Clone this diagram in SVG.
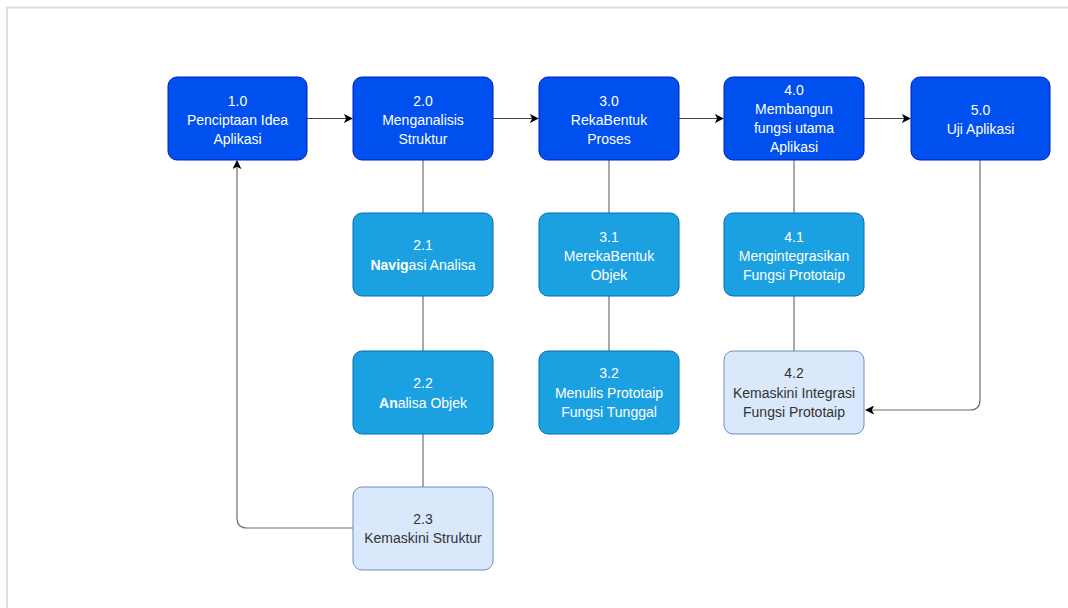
<svg xmlns="http://www.w3.org/2000/svg" width="1068" height="608" viewBox="0 0 1068 608">
<defs>
<marker id="arr" viewBox="0 0 10 10" refX="9" refY="5" markerWidth="9" markerHeight="9" markerUnits="userSpaceOnUse" orient="auto">
<path d="M0,0 L10,5 L0,10 L2.5,5 Z" fill="#000"/>
</marker>
<style>
.top{fill:#0050EF;stroke:#001DBC;stroke-width:1}
.mid{fill:#1BA1E2;stroke:#006EAF;stroke-width:1}
.lt{fill:#DAE8FC;stroke:#6C8EBF;stroke-width:1}
.tw{font-family:"Liberation Sans",Arial,sans-serif;font-size:14px;fill:#fff;text-anchor:middle}
.td{font-family:"Liberation Sans",Arial,sans-serif;font-size:14px;fill:#333;text-anchor:middle}
.c{fill:none;stroke:#707070;stroke-width:1.2}
.ca{fill:none;stroke:#444;stroke-width:1.2}
</style>
</defs>
<rect width="1068" height="608" fill="#fff"/>
<path d="M7,620 L7,7.5 L1070,7.5" fill="none" stroke="#dcdcdc" stroke-width="2"/>
<g id="connectors">
<path class="ca" d="M307,118.5 L352,118.5" marker-end="url(#arr)"/>
<path class="ca" d="M493,118.5 L538,118.5" marker-end="url(#arr)"/>
<path class="ca" d="M679,118.5 L723,118.5" marker-end="url(#arr)"/>
<path class="ca" d="M864,118.5 L910,118.5" marker-end="url(#arr)"/>
<path class="c" d="M423,160 L423,213"/>
<path class="c" d="M423,296 L423,351"/>
<path class="c" d="M423,434 L423,487"/>
<path class="c" d="M609,160 L609,213"/>
<path class="c" d="M609,296 L609,351"/>
<path class="c" d="M794,160 L794,213"/>
<path class="c" d="M794,296 L794,351"/>
<path class="c" d="M353,528 L247,528 Q237,528 237,518 L237,161" marker-end="url(#arr)"/>
<path class="c" d="M980,160 L980,400 Q980,410 970,410 L866,410" marker-end="url(#arr)"/>
</g>
<g id="n1_0"><rect class="top" x="168" y="77" width="139" height="83" rx="9"/>
<text class="tw" x="237.5"><tspan x="237.5" y="106">1.0</tspan><tspan x="237.5" y="125">Penciptaan Idea</tspan><tspan x="237.5" y="144">Aplikasi</tspan></text></g>
<g id="n2_0"><rect class="top" x="353" y="77" width="140" height="83" rx="9"/>
<text class="tw"><tspan x="423" y="106">2.0</tspan><tspan x="423" y="125">Menganalisis</tspan><tspan x="423" y="144">Struktur</tspan></text></g>
<g id="n3_0"><rect class="top" x="539" y="77" width="140" height="83" rx="9"/>
<text class="tw"><tspan x="609" y="106">3.0</tspan><tspan x="609" y="125">RekaBentuk</tspan><tspan x="609" y="144">Proses</tspan></text></g>
<g id="n4_0"><rect class="top" x="724" y="77" width="140" height="83" rx="9"/>
<text class="tw"><tspan x="794" y="95">4.0</tspan><tspan x="794" y="114">Membangun</tspan><tspan x="794" y="133">fungsi utama</tspan><tspan x="794" y="152">Aplikasi</tspan></text></g>
<g id="n5_0"><rect class="top" x="911" y="77" width="139" height="83" rx="9"/>
<text class="tw"><tspan x="980.5" y="115">5.0</tspan><tspan x="980.5" y="134">Uji Aplikasi</tspan></text></g>
<g id="n2_1"><rect class="mid" x="353" y="213" width="140" height="83" rx="9"/>
<text class="tw"><tspan x="423" y="250">2.1</tspan><tspan x="423" y="270"><tspan font-weight="bold">Navig</tspan>asi Analisa</tspan></text></g>
<g id="n2_2"><rect class="mid" x="353" y="351" width="140" height="83" rx="9"/>
<text class="tw"><tspan x="423" y="388">2.2</tspan><tspan x="423" y="408"><tspan font-weight="bold">An</tspan>alisa Objek</tspan></text></g>
<g id="n2_3"><rect class="lt" x="353" y="487" width="140" height="83" rx="9"/>
<text class="td"><tspan x="423" y="524">2.3</tspan><tspan x="423" y="543">Kemaskini Struktur</tspan></text></g>
<g id="n3_1"><rect class="mid" x="539" y="213" width="140" height="83" rx="9"/>
<text class="tw"><tspan x="609" y="242">3.1</tspan><tspan x="609" y="261">MerekaBentuk</tspan><tspan x="609" y="280">Objek</tspan></text></g>
<g id="n3_2"><rect class="mid" x="539" y="351" width="140" height="83" rx="9"/>
<text class="tw"><tspan x="609" y="378">3.2</tspan><tspan x="609" y="398">Menulis Prototaip</tspan><tspan x="609" y="417">Fungsi Tunggal</tspan></text></g>
<g id="n4_1"><rect class="mid" x="724" y="213" width="140" height="83" rx="9"/>
<text class="tw"><tspan x="794" y="242">4.1</tspan><tspan x="794" y="261">Mengintegrasikan</tspan><tspan x="794" y="280">Fungsi Prototaip</tspan></text></g>
<g id="n4_2"><rect class="lt" x="724" y="351" width="140" height="83" rx="9"/>
<text class="td"><tspan x="794" y="378">4.2</tspan><tspan x="794" y="398">Kemaskini Integrasi</tspan><tspan x="794" y="417">Fungsi Prototaip</tspan></text></g>
</svg>
